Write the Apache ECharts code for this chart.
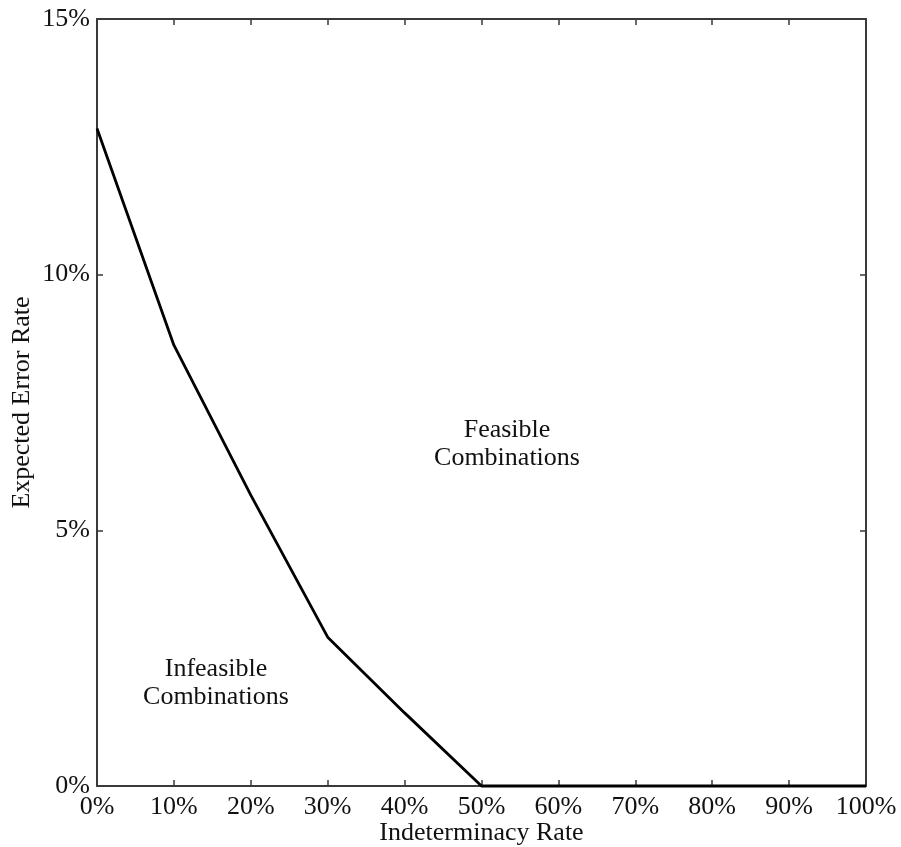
<!DOCTYPE html>
<html>
<head>
<meta charset="utf-8">
<script src="https://cdn.jsdelivr.net/npm/echarts@6/dist/echarts.min.js"></script>
<style>html,body{margin:0;padding:0;background:#fff}#c{width:901px;height:847px}</style>
</head>
<body>
<div id="c"></div>
<script>
const indeterminacy = [0, 10, 20, 30, 40, 50, 100];
const errorRate = [12.86, 8.62, 5.69, 2.91, 1.43, 0, 0];
const xTicks = { min: 0, max: 100, interval: 10 };
const yTicks = { min: 0, max: 15, interval: 5 };
const annotations = [
  { text: 'Feasible\nCombinations', x: 507, y: 444 },
  { text: 'Infeasible\nCombinations', x: 216, y: 683 }
];

const FONT = "'Liberation Serif', 'Times New Roman', serif";
const axisCol = '#3a3a3a';
const chart = echarts.init(document.getElementById('c'));
const baseAxis = {
  type: 'value',
  axisLine: { show: true, onZero: false, lineStyle: { color: axisCol, width: 2 } },
  axisTick: { show: true, inside: true, length: 6, lineStyle: { color: axisCol, width: 1.5 } },
  splitLine: { show: false }
};
chart.setOption({
  animation: false,
  grid: { left: 97, right: 35, top: 19, bottom: 61, containLabel: false, outerBoundsMode: 'none' },
  xAxis: [
    Object.assign({}, baseAxis, {
      min: xTicks.min, max: xTicks.max, interval: xTicks.interval, position: 'bottom',
      name: 'Indeterminacy Rate', nameLocation: 'middle', nameGap: 34, nameMoveOverlap: false,
      nameTextStyle: { fontFamily: FONT, fontSize: 26, color: '#111' },
      axisLabel: { formatter: '{value}%', fontFamily: FONT, fontSize: 26, color: '#111', margin: 8 }
    }),
    Object.assign({}, baseAxis, {
      min: xTicks.min, max: xTicks.max, interval: xTicks.interval, position: 'top',
      axisLabel: { show: false }
    })
  ],
  yAxis: [
    Object.assign({}, baseAxis, {
      min: yTicks.min, max: yTicks.max, interval: yTicks.interval, position: 'left',
      name: 'Expected Error Rate', nameLocation: 'middle', nameGap: 62, nameMoveOverlap: false,
      nameTextStyle: { fontFamily: FONT, fontSize: 26, color: '#111' },
      axisLabel: { formatter: '{value}%', fontFamily: FONT, fontSize: 26, color: '#111', margin: 7 }
    }),
    Object.assign({}, baseAxis, {
      min: yTicks.min, max: yTicks.max, interval: yTicks.interval, position: 'right',
      axisLabel: { show: false }
    })
  ],
  series: [{
    type: 'line',
    data: indeterminacy.map((x, i) => [x, errorRate[i]]),
    showSymbol: false,
    lineStyle: { color: '#000', width: 2.8 },
    clip: false,
    z: 5
  }],
  graphic: annotations.map(a => ({
    type: 'text', x: a.x, y: a.y,
    style: { text: a.text, fontFamily: FONT, fontSize: 26, fill: '#111', align: 'center', verticalAlign: 'middle', lineHeight: 28 }
  }))
});
</script>
</body>
</html>
